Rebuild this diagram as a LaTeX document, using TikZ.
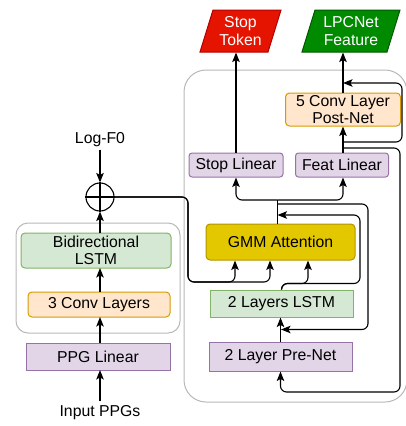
\documentclass[tikz,border=0pt]{standalone}
\usepackage{fontspec}
\setmainfont{Liberation Sans}
\usetikzlibrary{arrows.meta,calc}
\definecolor{purF}{HTML}{E1D5E7}\definecolor{purD}{HTML}{9673A6}
\definecolor{orF}{HTML}{FFE6CC}\definecolor{orD}{HTML}{D79B00}
\definecolor{grF}{HTML}{D5E8D4}\definecolor{grD}{HTML}{82B366}
\definecolor{yeF}{HTML}{E3C800}\definecolor{yeD}{HTML}{B09500}
\definecolor{redF}{HTML}{E51400}\definecolor{redD}{HTML}{B20000}
\definecolor{dgF}{HTML}{008A00}\definecolor{dgD}{HTML}{005700}
\definecolor{contD}{HTML}{B8B8B8}
\begin{document}
\begin{tikzpicture}[x=1pt,y=-1pt,
  font=\fontsize{15.8}{17.5}\selectfont,
  line width=1.1pt,
  arr/.style={-{Stealth[length=9.5pt,width=7.5pt,inset=2pt]}, rounded corners=6pt},
  box/.style={draw, line width=1pt, align=center, inner sep=0pt},
  purbox/.style={box, fill=purF, draw=purD},
  rpurbox/.style={purbox, rounded corners=3pt},
  orbox/.style={box, fill=orF, draw=orD, rounded corners=4pt},
  grbox/.style={box, fill=grF, draw=grD},
  rgrbox/.style={grbox, rounded corners=4pt},
  yebox/.style={box, fill=yeF, draw=yeD, rounded corners=4pt},
  container/.style={draw=contD, line width=1pt, rounded corners=#1},
  outlabel/.style={text=white, align=center, inner sep=0pt, minimum height=42pt},
]
\useasboundingbox (0,0) rectangle (406,426);
\clip (0,0) rectangle (406,426);

% containers
\draw[container=22pt] (184,70) rectangle (407,402);
\draw[container=12pt] (16,223) rectangle (180,333);

% output parallelograms
\filldraw[fill=redF, draw=redD, line width=1pt] (200,52) -- (268,52) -- (281,10) -- (213,10) -- cycle;
\node[outlabel] (stoptok) at (240.5,31) {Stop\\Token};
\filldraw[fill=dgF, draw=dgD, line width=1pt] (302,52) -- (387,52) -- (400,10) -- (315,10) -- cycle;
\node[outlabel] (lpc) at (351,31) {LPCNet\\Feature};

% right column
\node[orbox, minimum width=115pt, minimum height=33pt] (postnet) at (343,109.5) {5 Conv Layer\\Post-Net};
\node[rpurbox, minimum width=94pt, minimum height=24pt] (stoplin) at (236,165) {Stop Linear};
\node[rpurbox, minimum width=93pt, minimum height=24pt] (featlin) at (342,165) {Feat Linear};
\node[yebox, minimum width=149pt, minimum height=36pt] (gmm) at (280.5,242) {GMM Attention};
\node[grbox, minimum width=143pt, minimum height=27pt] (lstm2) at (281.5,303.5) {2 Layers LSTM};
\node[purbox, minimum width=143pt, minimum height=29pt] (prenet) at (280.5,356.5) {2 Layer Pre-Net};

% left column
\node[inner sep=2pt] (logf0) at (100,140) {Log-F0};
\node[circle, draw, fill=white, minimum size=28pt, inner sep=0pt] (circ) at (100,197) {};
\draw (circ.north) -- (circ.south) (circ.west) -- (circ.east);
\node[rgrbox, minimum width=150pt, minimum height=35pt] (bilstm) at (96,250.5) {Bidirectional\\LSTM};
\node[orbox, minimum width=142pt, minimum height=25pt] (conv3) at (99,304.5) {3 Conv Layers};
\node[purbox, minimum width=144pt, minimum height=27pt] (ppglin) at (98,356.5) {PPG Linear};
\node[inner sep=4pt] (inppg) at (100,413) {Input PPGs};

% helper coordinates
\coordinate (jn) at (277.5,200);
\coordinate (jc) at (277.5,204);
\coordinate (ja) at (277.5,215);
\coordinate (fb) at (343,148);
\coordinate (rs) at (343,142);
\coordinate (rt) at (343,83);
\coordinate (li) at ($(prenet.north)!0.5!(lstm2.south)$);

% left connectors
\draw[arr] (inppg.north) -- (100,370);
\draw[arr] (100,343) -- (100,317);
\draw[arr] (100,292) -- (100,268);
\draw[arr] (100,233) -- (circ.south);
\draw[arr] (logf0.south) -- (circ.north);

% encoder output to attention
\draw[arr] (circ.east) -| (188,282) -| ([xshift=-45.5pt]gmm.south);
\draw[arr] (circ.east) -| (188,282) -| ([xshift=-10.5pt]gmm.south);

% decoder
\draw[arr] (prenet.north) -- (lstm2.south -| prenet.north);
\draw[arr] (lstm2.north) -- ++(0,-6) -| ([xshift=27.5pt]gmm.south);
\draw[arr] (lstm2.north) -- ++(0,-6) -| (360,215) -- (ja);
\draw ([xshift=-3pt]gmm.north) -- (jn);
\draw[arr] (jn) -| (stoplin.south);
\draw[arr] (jn) -| (featlin.south -| postnet.south);
\draw[arr] (jc) -| (368,329.5) -- (li);

% outputs
\draw[arr] (featlin.north -| postnet.south) -- (postnet.south);
\draw[arr] (rs) -| (402,83) -- (rt);
\draw[arr] (fb) -| (400,392) -| (prenet.south);
\draw[arr] (stoplin.north) -- (stoplin.north |- stoptok.south);
\draw[arr] (postnet.north) -- (postnet.north |- lpc.south);
\end{tikzpicture}
\end{document}
